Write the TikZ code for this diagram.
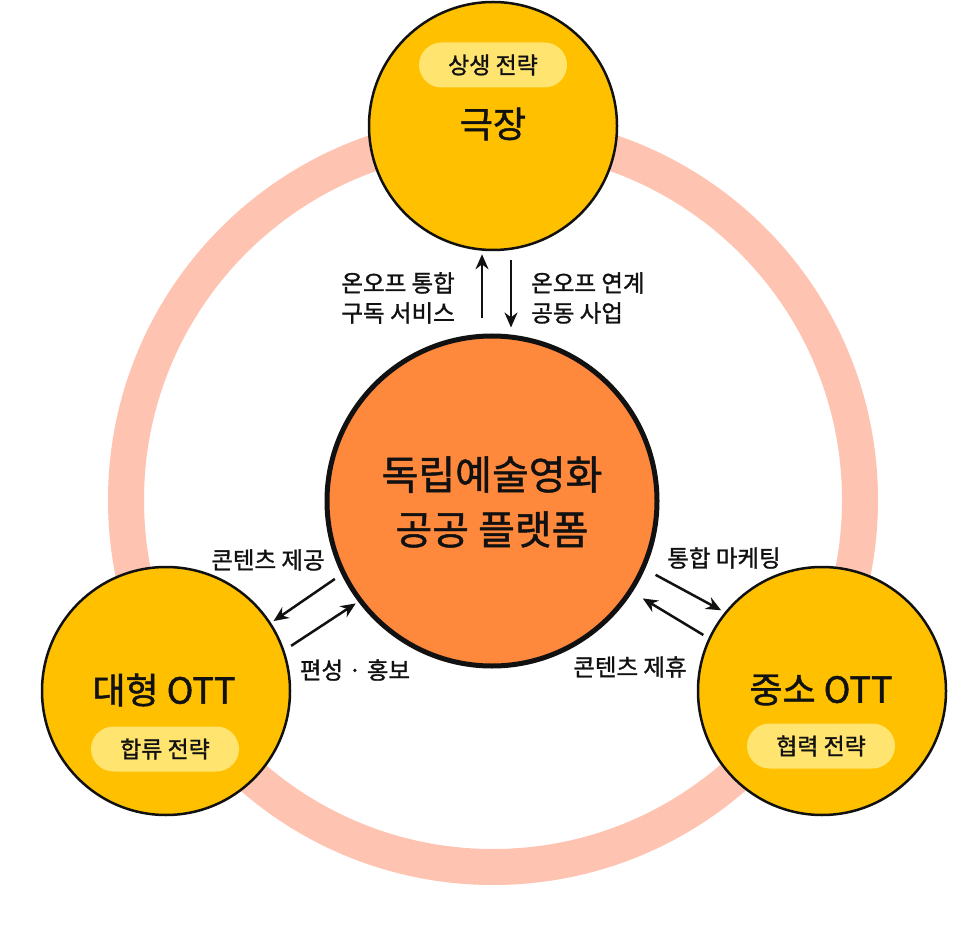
\documentclass[tikz,border=0pt]{standalone}
\usepackage{fontspec}
\setmainfont{Noto Sans CJK KR}[FakeBold=1.2]
\usetikzlibrary{arrows.meta}
\definecolor{ringc}{RGB}{255,195,177}
\definecolor{goldc}{RGB}{255,192,0}
\definecolor{pillc}{RGB}{255,228,112}
\definecolor{orangec}{RGB}{254,136,60}
\definecolor{inkc}{RGB}{17,17,17}
\begin{document}
\begin{tikzpicture}[x=1pt,y=-1pt,
  outer/.style={circle,draw=inkc,line width=2.5pt,fill=goldc,minimum size=248pt,inner sep=0pt},
  hub/.style={circle,draw=inkc,line width=5pt,fill=orangec,minimum size=330pt,inner sep=0pt},
  pill/.style={rectangle,rounded corners=22.5pt,fill=pillc,minimum width=148pt,minimum height=45pt,inner sep=0pt,font=\fontsize{23}{26}\selectfont,text=inkc},
  title/.style={font=\fontsize{36}{40}\selectfont,text=inkc,inner sep=0pt},
  lbl/.style={font=\fontsize{23.5}{30}\selectfont,text=inkc,inner sep=0pt},
  arr/.style={draw=inkc,line width=2.5pt,-{Stealth[length=15pt,width=13pt]}}
]
\useasboundingbox (0,0) rectangle (972,941);
\draw[ringc,line width=36pt] (493,500) circle[radius=367pt];

\node[hub] (hub) at (492,501) {};
\node[font=\fontsize{40}{55}\selectfont,text=inkc,align=center,inner sep=0pt] (hubtxt) at (492,502) {독립예술영화\\공공 플랫폼};

\node[outer] (theater) at (493,126) {};
\node[pill] (tpill) at (493,65) {상생 전략};
\node[title] (ttitle) at (493,124) {극장};

\node[outer] (big) at (166,691) {};
\node[title] (btitle) at (164,690) {대형 OTT};
\node[pill] (bpill) at (165,749) {합류 전략};

\node[outer] (small) at (822,691) {};
\node[title] (stitle) at (821,690) {중소 OTT};
\node[pill] (spill) at (821,746) {협력 전략};

% vertical arrows
\draw[arr,shorten <=15pt,shorten >=3pt] ([xshift=-10pt]hub.north) -- ([xshift=-11pt]theater.south);
\draw[arr,shorten <=9pt,shorten >=6pt] ([xshift=18pt]theater.south) -- ([xshift=19pt]hub.north);

% left arrows
\draw[arr,shorten <=8pt,shorten >=3pt] (hub.206) -- (big.33);
\draw[arr,shorten <=8pt,shorten >=3pt] (big.19) -- (hub.217);

% right arrows
\draw[arr,shorten <=12pt,shorten >=4pt] (hub.336) -- (small.141);
\draw[arr,shorten <=6pt,shorten >=12pt] (small.155) -- (hub.327);

\node[lbl,align=right,anchor=east] (l1) at (455,298) {온오프 통합\\구독 서비스};
\node[lbl,align=left,anchor=west] (l2) at (531,298) {온오프 연계\\공동 사업};
\node[lbl] (l3) at (268,560) {콘텐츠 제공};
\node[lbl] (l4) at (355,670) {편성 · 홍보};
\node[lbl] (l5) at (724,558) {통합 마케팅};
\node[lbl] (l6) at (630,667) {콘텐츠 제휴};
\end{tikzpicture}
\end{document}
